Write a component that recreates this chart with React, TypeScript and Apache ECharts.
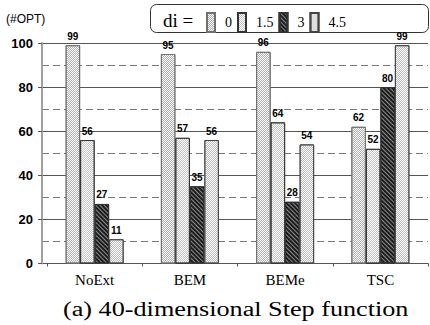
import React, { useEffect, useRef } from "react";
import * as echarts from "echarts";

const categories = ["NoExt", "BEM", "BEMe", "TSC"];
const seriesNames = ["0", "1.5", "3", "4.5"];
const di0 = [99, 95, 96, 62];
const di15 = [56, 57, 64, 52];
const di3 = [27, 35, 28, 80];
const di45 = [11, 56, 54, 99];
const seriesValues = [di0, di15, di3, di45];
const yTicks = [0, 20, 40, 60, 80, 100];
const captionText = "(a) 40-dimensional Step function";

const checker = (c: string) => ({
  symbol: "rect",
  symbolSize: 1,
  color: c,
  dashArrayX: [
    [1, 1],
    [0, 1, 1, 0],
  ],
  dashArrayY: [1, 0],
  rotation: 0,
});
const hatch = {
  symbol: "rect",
  symbolSize: 1,
  color: "#1c1c1c",
  dashArrayX: [1, 0],
  dashArrayY: [1.2, 1],
  rotation: Math.PI / 4,
};

const styles = [
  { color: "#ffffff", decal: checker("#b0b0b0"), borderColor: "#707070" },
  { color: "#ffffff", decal: checker("#c4c4c4"), borderColor: "#333" },
  { color: "#8a8a8a", decal: hatch, borderColor: "#333" },
  { color: "#ffffff", decal: checker("#bcbcbc"), borderColor: "#444" },
];

export default function App() {
  const ref = useRef<HTMLDivElement>(null);
  useEffect(() => {
    if (!ref.current) return;
    const chart = echarts.init(ref.current, undefined, { renderer: "svg" });
    const gridTop = 43;
    const gridBottom = 61.5;
    chart.setOption({
      animation: false,
      backgroundColor: "#ffffff",
      title: [
        {
          text: "(#OPT)",
          left: 6,
          top: 13,
          padding: 0,
          textStyle: { fontFamily: "Liberation Sans", fontSize: 12, fontWeight: "normal", color: "#000" },
        },
      ],
      legend: {
        data: seriesNames,
        left: 206,
        top: 12,
        padding: 0,
        icon: "rect",
        itemWidth: 8,
        itemHeight: 19,
        itemGap: 5,
        textStyle: {
          fontFamily: "Liberation Serif",
          fontSize: 14,
          color: "#000",
          width: 22,
          padding: [0, 0, 0, 5],
        },
      },
      graphic: [
        {
          type: "rect",
          shape: { x: 150.5, y: 4.5, width: 278, height: 28, r: 6 },
          style: { fill: "none", stroke: "#333", lineWidth: 1 },
          z: -1,
        },
        {
          type: "text",
          x: 163,
          y: 20,
          style: {
            text: "di =",
            font: "19px 'Liberation Serif'",
            fill: "#000",
            verticalAlign: "middle",
          },
        },
        {
          type: "text",
          x: 63,
          y: 309,
          scaleX: 1.31,
          style: {
            text: captionText,
            font: "20px 'Liberation Serif'",
            fill: "#000",
            verticalAlign: "middle",
          },
        },
      ],
      grid: [
        { left: 47, right: 2, top: gridTop, bottom: gridBottom },
        { left: 42, right: 2, top: gridTop, bottom: gridBottom },
      ],
      xAxis: [
        {
          type: "category",
          gridIndex: 0,
          data: categories,
          axisLine: { lineStyle: { color: "#333", width: 1 } },
          axisTick: { show: true, length: 3, lineStyle: { color: "#555" } },
          axisLabel: { fontFamily: "Liberation Serif", fontSize: 15, color: "#000", margin: 9 },
        },
        { type: "value", gridIndex: 1, min: 0, max: 1, show: false },
      ],
      yAxis: [
        { type: "value", gridIndex: 0, min: 0, max: 100, show: false },
        {
          type: "value",
          gridIndex: 1,
          min: 0,
          max: 100,
          interval: 20,
          axisLine: { show: true, lineStyle: { color: "#a0a0a0", width: 2 } },
          axisTick: { show: true, length: 4, lineStyle: { color: "#555" } },
          axisLabel: {
            fontFamily: "Liberation Sans",
            fontSize: 13,
            fontWeight: "bold",
            color: "#000",
            margin: 9,
            formatter: (v: number) => (yTicks.includes(v) ? String(v) : ""),
          },
          splitLine: { show: true, lineStyle: { color: "#555", width: 1, type: "solid" } },
          z: 1,
        },
        {
          type: "value",
          gridIndex: 1,
          min: 0,
          max: 100,
          interval: 10,
          axisLine: { show: false },
          axisTick: { show: false },
          axisLabel: { show: false },
          splitLine: { show: true, lineStyle: { color: "#777", width: 1, type: [7, 4] } },
          z: 0,
        },
      ],
      series: seriesNames.map((name, i) => ({
        name,
        type: "bar",
        xAxisIndex: 0,
        yAxisIndex: 0,
        data: seriesValues[i],
        barWidth: 14.5,
        barGap: "0%",
        itemStyle: { ...styles[i], borderWidth: 1 },
        label: {
          show: true,
          position: "top",
          distance: 4,
          fontFamily: "Liberation Sans",
          fontSize: 10,
          fontWeight: "bold",
          color: "#000",
        },
        z: 3,
      })),
    });
    return () => chart.dispose();
  }, []);
  return <div ref={ref} style={{ width: 430, height: 325, position: "absolute", left: 0, top: 0 }} />;
}
